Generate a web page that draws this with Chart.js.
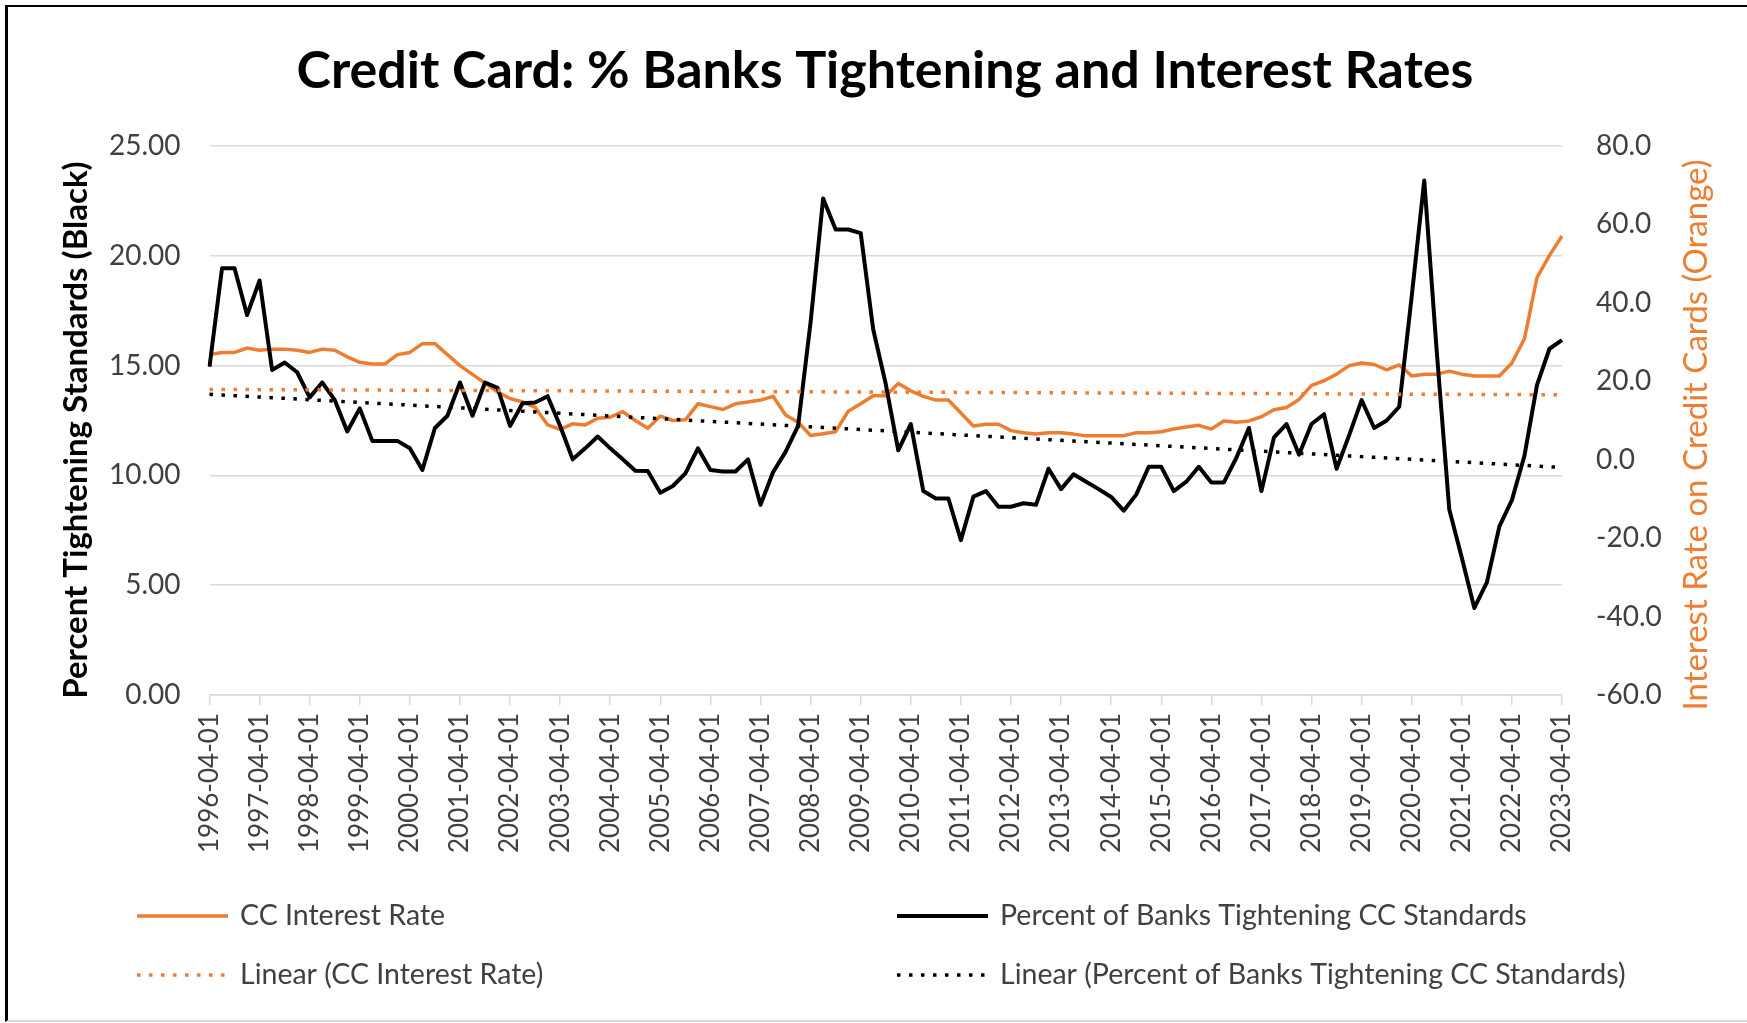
<!DOCTYPE html>
<html>
<head>
<meta charset="utf-8">
<title>Credit Card: % Banks Tightening and Interest Rates</title>
<script src="https://cdn.jsdelivr.net/npm/chart.js@4.4.0/dist/chart.umd.min.js"></script>
<style>
  html, body { margin: 0; padding: 0; background: #fff; }
  #wrap { position: relative; width: 1747px; height: 1023px; }
  #frame {
    position: absolute; left: 5px; top: 5px; right: 0; bottom: 1px;
    border-top: 2px solid #000; border-left: 3px solid #000; border-bottom: 2px solid #d9d9d9;
    pointer-events: none;
  }
</style>
</head>
<body>
<div id="wrap">
  <canvas id="ccChart"></canvas>
  <div id="frame"></div>
</div>
<script>
// ── Data ────────────────────────────────────────────────────
// quarterly observation dates, 1996-04-01 .. 2023-04-01
const firstDate = '1996-04-01';
const lastDate = '2023-04-01';
const quarterMonths = ['01', '04', '07', '10'];
const dates = [];
for (let y = 1996; y <= 2023; y++) {
  for (const m of quarterMonths) {
    const d = `${y}-${m}-01`;
    if (d >= firstDate && d <= lastDate) dates.push(d);
  }
}

// CC interest rate, % (left axis)
const ccInterestRate = [
  15.50, 15.60, 15.60, 15.80, 15.70, 15.75, 15.75, 15.70, 15.60, 15.75, 15.70, 15.40,
  15.15, 15.07, 15.07, 15.50, 15.60, 16.00, 16.00, 15.50, 15.00, 14.60, 14.20, 13.80,
  13.50, 13.35, 13.10, 12.30, 12.10, 12.35, 12.30, 12.60, 12.65, 12.90, 12.50, 12.15,
  12.70, 12.50, 12.53, 13.26, 13.13, 13.00, 13.26, 13.34, 13.43, 13.60, 12.75, 12.42,
  11.82, 11.90, 11.99, 12.92, 13.26, 13.63, 13.63, 14.19, 13.85, 13.60, 13.43, 13.43,
  12.84, 12.25, 12.33, 12.33, 12.04, 11.94, 11.88, 11.94, 11.94, 11.88, 11.80, 11.80,
  11.81, 11.81, 11.94, 11.94, 11.99, 12.11, 12.20, 12.28, 12.11, 12.48, 12.42, 12.48,
  12.67, 12.99, 13.09, 13.46, 14.10, 14.31, 14.61, 15.00, 15.12, 15.05, 14.81, 15.03,
  14.53, 14.61, 14.61, 14.75, 14.61, 14.53, 14.53, 14.53, 15.12, 16.22, 19.00, 20.02,
  20.90
];

// net percent of banks tightening CC standards (right axis)
const pctTightening = [
  23.7, 48.8, 48.8, 36.9, 45.7, 22.9, 24.8, 22.3, 15.9, 19.7, 15.2, 7.2,
  13.1, 4.8, 4.8, 4.8, 2.9, -2.6, 8.1, 11.2, 19.7, 11.2, 19.7, 18.3,
  8.6, 14.4, 14.6, 16.2, 8.6, 0.1, 2.9, 5.9, 2.9, 0.1, -2.8, -2.9,
  -8.4, -6.7, -3.5, 2.9, -2.6, -3.0, -3.0, 0.1, -11.5, -3.2, 2.0, 8.6,
  35.1, 66.6, 58.7, 58.7, 57.8, 33.2, 19.3, 2.4, 9.1, -8.0, -9.9, -9.9,
  -20.5, -9.4, -8.0, -12.0, -12.0, -11.1, -11.5, -2.3, -7.5, -3.7, -5.6, -7.5,
  -9.5, -13.0, -8.9, -1.8, -1.8, -8.0, -5.6, -1.8, -5.8, -5.8, 0.5, 8.1,
  -8.0, 5.7, 9.1, 1.3, 9.1, 11.6, -2.3, 6.2, 15.2, 8.1, 10.0, 13.5,
  41.7, 71.2, 27.5, -12.7, -25.0, -37.8, -31.3, -17.0, -10.3, 1.0, 19.0, 28.3,
  30.5
];

const leftAxisTicks = [0, 5, 10, 15, 20, 25];
const rightAxisTicks = [-60, -40, -20, 0, 20, 40, 60, 80];

// ── Helpers ─────────────────────────────────────────────────
const ORANGE = '#ED7D31';
const GRID = '#d9d9d9';
const TEXT = '#404040';
const FONT = 'Lato';

// ordinary least squares fit against the quarter index
function linearTrend(values) {
  const n = values.length;
  let sx = 0, sy = 0, sxy = 0, sxx = 0;
  values.forEach((v, i) => { sx += i; sy += v; sxy += i * v; sxx += i * i; });
  const slope = (n * sxy - sx * sy) / (n * sxx - sx * sx);
  const icpt = (sy - slope * sx) / n;
  return values.map((_, i) => icpt + slope * i);
}

// two-column legend under the axis
const legendSlots = [
  { x: 137, y: 916 }, { x: 897, y: 916 },
  { x: 137, y: 975 }, { x: 897, y: 975 }
];
const gridLegend = {
  id: 'gridLegend',
  afterDraw(chart) {
    const { ctx } = chart;
    chart.data.datasets.forEach((ds, i) => {
      const s = legendSlots[i];
      ctx.save();
      ctx.strokeStyle = ds.borderColor;
      ctx.lineWidth = ds.borderWidth;
      ctx.setLineDash(ds.borderDash || []);
      ctx.beginPath();
      ctx.moveTo(s.x, s.y);
      ctx.lineTo(s.x + 91, s.y);
      ctx.stroke();
      ctx.setLineDash([]);
      ctx.fillStyle = TEXT;
      ctx.font = `28.5px ${FONT}`;
      ctx.textBaseline = 'middle';
      ctx.fillText(ds.label, s.x + 103, s.y);
      ctx.restore();
    });
  }
};

// chart title and the two axis titles (both read bottom-to-top)
const chartTexts = {
  id: 'chartTexts',
  afterDraw(chart) {
    const { ctx } = chart;
    const put = (text, x, y, font, color, rot) => {
      ctx.save();
      ctx.translate(x, y);
      if (rot) ctx.rotate(-Math.PI / 2);
      ctx.font = font;
      ctx.fillStyle = color;
      ctx.textAlign = 'center';
      ctx.textBaseline = 'middle';
      ctx.fillText(text, 0, 0);
      ctx.restore();
    };
    put('Credit Card: % Banks Tightening and Interest Rates', 885, 71, `bold 52px ${FONT}`, '#000', false);
    put('Percent Tightening Standards (Black)', 76, 430, `bold 33px ${FONT}`, '#000', true);
    put('Interest Rate on Credit Cards (Orange)', 1696, 435, `33px ${FONT}`, ORANGE, true);
  }
};

// ── Chart ───────────────────────────────────────────────────
const lineBase = { pointRadius: 0, tension: 0, fill: false, borderJoinStyle: 'round' };

new Chart(document.getElementById('ccChart'), {
  type: 'line',
  data: {
    labels: dates,
    datasets: [
      { ...lineBase, label: 'CC Interest Rate', data: ccInterestRate, yAxisID: 'y',
        borderColor: ORANGE, borderWidth: 3.5, order: 4 },
      { ...lineBase, label: 'Percent of Banks Tightening CC Standards', data: pctTightening, yAxisID: 'y1',
        borderColor: '#000', borderWidth: 4, order: 3 },
      { ...lineBase, label: 'Linear (CC Interest Rate)', data: linearTrend(ccInterestRate), yAxisID: 'y',
        borderColor: ORANGE, borderWidth: 3.5, borderDash: [3.5, 8.5], order: 2 },
      { ...lineBase, label: 'Linear (Percent of Banks Tightening CC Standards)', data: linearTrend(pctTightening), yAxisID: 'y1',
        borderColor: '#000', borderWidth: 3.5, borderDash: [3.5, 8.5], order: 1 }
    ]
  },
  options: {
    responsive: true,
    maintainAspectRatio: false,
    animation: false,
    layout: { padding: { top: 146, left: 10, right: 10, bottom: 160 } },
    plugins: {
      legend: { display: false },
      tooltip: { enabled: false },
      title: { display: false }
    },
    scales: {
      x: {
        afterFit: (s) => { s.height = 168; },
        grid: {
          drawOnChartArea: false,
          drawTicks: true,
          tickLength: 10,
          lineWidth: 1.5,
          color: (c) => (c.index % 4 === 0 ? GRID : 'rgba(0,0,0,0)')
        },
        border: { display: true, color: GRID, width: 1.5 },
        ticks: {
          autoSkip: false,
          maxRotation: 90,
          minRotation: 90,
          padding: 8,
          color: TEXT,
          font: { family: FONT, size: 26 },
          callback: function (v, i) { return i % 4 === 0 ? this.getLabelForValue(v) : ''; }
        }
      },
      y: {
        position: 'left',
        min: leftAxisTicks[0],
        max: leftAxisTicks[leftAxisTicks.length - 1],
        afterFit: (s) => { s.width = 199.5; },
        grid: { color: GRID, lineWidth: 1.5, drawTicks: false },
        border: { display: false },
        ticks: {
          stepSize: leftAxisTicks[1] - leftAxisTicks[0],
          padding: 29,
          color: TEXT,
          font: { family: FONT, size: 28 },
          callback: (v) => v.toFixed(2)
        }
      },
      y1: {
        position: 'right',
        min: rightAxisTicks[0],
        max: rightAxisTicks[rightAxisTicks.length - 1],
        afterFit: (s) => { s.width = 175; },
        grid: { drawOnChartArea: false, drawTicks: false },
        border: { display: false },
        ticks: {
          stepSize: rightAxisTicks[1] - rightAxisTicks[0],
          padding: 34,
          color: TEXT,
          font: { family: FONT, size: 28 },
          callback: (v) => v.toFixed(1)
        }
      }
    }
  },
  plugins: [gridLegend, chartTexts]
});
</script>
</body>
</html>
